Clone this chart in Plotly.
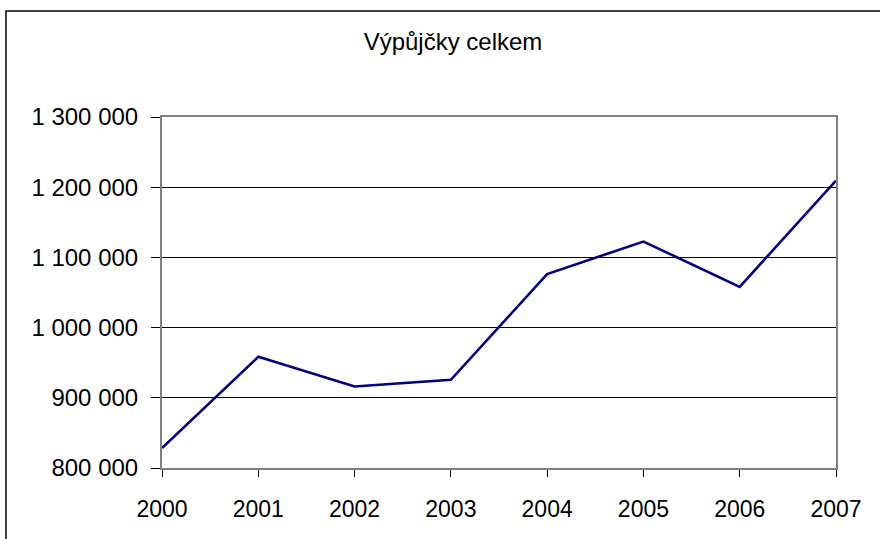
import plotly.graph_objects as go

years = [2000, 2001, 2002, 2003, 2004, 2005, 2006, 2007]
loans = [828500, 958400, 916200, 925700, 1076200, 1122600, 1058100, 1209400]
title_text = "Výpůjčky celkem"

W, H = 880, 539
L, R, T, B = 162, 44, 117, 71
pw, ph = W - L - R, H - T - B

font = dict(family="Liberation Sans, Arial, sans-serif", size=24, color="black")

fig = go.Figure()
fig.add_trace(go.Scatter(x=years, y=loans, mode="lines",
                         line=dict(color="#000080", width=2.6),
                         showlegend=False, hoverinfo="x+y"))

fig.update_layout(
    width=W, height=H,
    margin=dict(l=L, r=R, t=T, b=B, pad=0),
    paper_bgcolor="white", plot_bgcolor="white",
    separators=". ",
    font=font,
    title=dict(text=title_text, x=453 / W, xanchor="center",
               y=1 - 42 / H, yanchor="middle", font=dict(size=24)),
    xaxis=dict(range=[2000, 2007], tickvals=years, ticktext=[str(y) for y in years],
               showgrid=False, zeroline=False,
               showline=True, linecolor="#808080", linewidth=2, mirror=True,
               ticks="outside", ticklen=7, tickcolor="black", tickwidth=1,
               ticklabelstandoff=12, tickfont=dict(size=23)),
    yaxis=dict(range=[800000, 1300000], dtick=100000, tickformat=",d",
               showgrid=True, gridcolor="black", gridwidth=1, zeroline=False,
               showline=True, linecolor="#808080", linewidth=2, mirror=True,
               ticks="outside", ticklen=9, tickcolor="black", tickwidth=1,
               ticklabelstandoff=8, tickfont=dict(size=24)),
    shapes=[dict(type="rect", xref="paper", yref="paper",
                 x0=(6 - L) / pw, x1=(W + 20 - L) / pw,
                 y0=-(H + 20 - T - ph) / ph, y1=(T + ph - 11) / ph,
                 line=dict(color="black", width=1.5), fillcolor="rgba(0,0,0,0)",
                 layer="below")],
)

fig.write_html("out.html", config={"displayModeBar": False},
               post_script="document.body.style.margin='0';document.body.style.overflow='hidden';")
